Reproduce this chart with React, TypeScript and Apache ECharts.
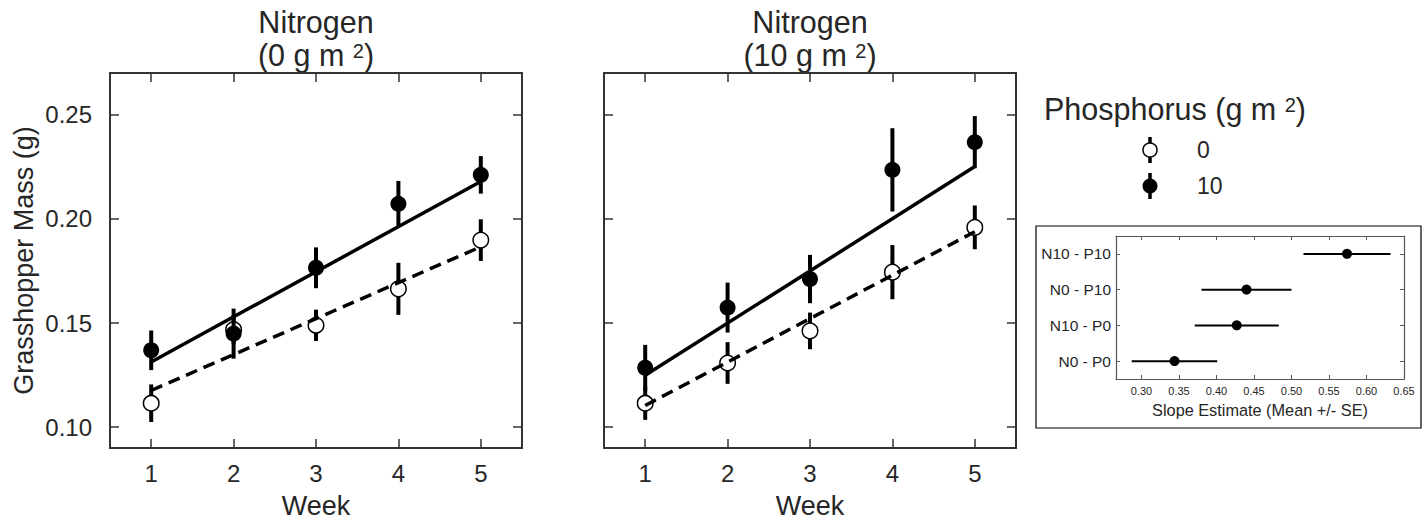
import React, { useEffect, useRef } from "react";
import * as echarts from "echarts";

// ---- data ----
const weeks = [1, 2, 3, 4, 5];
const fitWeeks = [1, 5];
const weekTicks = [1, 2, 3, 4, 5];
const massTicks = [0.1, 0.15, 0.2, 0.25];

// N0 panel
const n0p0Mean = [0.1115, 0.1468, 0.1489, 0.1664, 0.1898];
const n0p0Err = [0.009, 0.007, 0.0075, 0.0125, 0.01];
const n0p10Mean = [0.1369, 0.1449, 0.1765, 0.2072, 0.2211];
const n0p10Err = [0.0095, 0.012, 0.0098, 0.011, 0.009];
const n0p0Fit = [0.1176, 0.1866];
const n0p10Fit = [0.1313, 0.2179];

// N10 panel
const n10p0Mean = [0.1115, 0.1308, 0.1462, 0.1744, 0.1959];
const n10p0Err = [0.008, 0.01, 0.0088, 0.013, 0.0105];
const n10p10Mean = [0.1285, 0.1574, 0.1711, 0.2235, 0.2368];
const n10p10Err = [0.011, 0.012, 0.0116, 0.02, 0.0125];
const n10p0Fit = [0.1104, 0.1938];
const n10p10Fit = [0.1249, 0.2251];

// Slope inset
const slopeLabels = ["N0 - P0", "N10 - P0", "N0 - P10", "N10 - P10"];
const slopeMean = [0.344, 0.427, 0.44, 0.574];
const slopeSE = [0.057, 0.056, 0.06, 0.058];
const slopeTicks = [0.3, 0.35, 0.4, 0.45, 0.5, 0.55, 0.6, 0.65];

const FONT = "Liberation Sans, Arial, Helvetica, sans-serif";
const TXT = "#262626";
const AX = "#333";
const TITLE_SIZE = 30.5;
const SUP_SIZE = 20;

let measureCtx: CanvasRenderingContext2D | null = null;
function textWidth(t: string, size: number) {
  if (!measureCtx) measureCtx = document.createElement("canvas").getContext("2d");
  if (!measureCtx) return t.length * size * 0.55;
  measureCtx.font = `${size}px "Liberation Sans", Arial, sans-serif`;
  return measureCtx.measureText(t).width;
}

// text "base" + superscript "2" + ")" ; returns graphic elements
function supLabel(x: number, y: number, base: string, align: "left" | "center") {
  const w1 = textWidth(base, TITLE_SIZE);
  const w2 = textWidth("2", SUP_SIZE);
  const w3 = textWidth(")", TITLE_SIZE);
  const total = w1 + w2 + w3;
  const start = align === "center" ? x - total / 2 : x;
  const mk = (tx: number, ty: number, text: string, size: number) => ({
    type: "text",
    x: tx,
    y: ty,
    style: { text, fontSize: size, fill: TXT, fontFamily: FONT, align: "left", verticalAlign: "middle" },
  });
  return [
    mk(start, y, base, TITLE_SIZE),
    mk(start + w1, y - 4.5, "2", SUP_SIZE),
    mk(start + w1 + w2, y, ")", TITLE_SIZE),
  ];
}

function mainAxes(grid: number, showYLabels: boolean) {
  const tick = (vals: number[]) => ({
    show: true,
    inside: true,
    length: 9,
    customValues: vals,
    lineStyle: { color: AX, width: 1.5 },
  });
  const line = { show: true, onZero: false, lineStyle: { color: AX, width: 2 } };
  const xBase = {
    type: "value",
    gridIndex: grid,
    min: 0.5,
    max: 5.5,
    splitLine: { show: false },
    axisLine: line,
  };
  const yBase = {
    type: "value",
    gridIndex: grid,
    min: 0.09,
    max: 0.27,
    splitLine: { show: false },
    axisLine: line,
  };
  const xAxes = [
    {
      ...xBase,
      position: "bottom",
      axisTick: tick(weekTicks),
      axisLabel: {
        customValues: weekTicks,
        fontSize: 24,
        color: TXT,
        fontFamily: FONT,
        margin: 13,
      },
      name: "Week",
      nameLocation: "middle",
      nameGap: 44,
      nameTextStyle: { fontSize: 27, color: TXT, fontFamily: FONT },
    },
    {
      ...xBase,
      position: "top",
      axisTick: tick(weekTicks),
      axisLabel: { show: false, customValues: weekTicks },
    },
  ];
  const yAxes = [
    {
      ...yBase,
      position: "left",
      axisTick: tick(massTicks),
      axisLabel: {
        show: showYLabels,
        customValues: massTicks,
        fontSize: 24,
        color: TXT,
        fontFamily: FONT,
        margin: 18,
        formatter: (v: number) => v.toFixed(2),
      },
      name: showYLabels ? "Grasshopper Mass (g)" : "",
      nameLocation: "middle",
      nameGap: 73,
      nameTextStyle: { fontSize: 27, color: TXT, fontFamily: FONT },
    },
    {
      ...yBase,
      position: "right",
      axisTick: tick(massTicks),
      axisLabel: { show: false, customValues: massTicks },
    },
  ];
  return { xAxes, yAxes };
}

function vErr(axisIdx: number, mean: number[], err: number[], z: number) {
  return {
    type: "custom",
    xAxisIndex: axisIdx,
    yAxisIndex: axisIdx,
    z,
    silent: true,
    encode: { x: 0, y: [1, 2] },
    data: weeks.map((w, i) => [w, mean[i] - err[i], mean[i] + err[i]]),
    renderItem: (_p: any, api: any) => {
      const x = api.value(0);
      const a = api.coord([x, api.value(1)]);
      const b = api.coord([x, api.value(2)]);
      return {
        type: "line",
        shape: { x1: a[0], y1: a[1], x2: b[0], y2: b[1] },
        style: { stroke: "#000", lineWidth: 4 },
      };
    },
  };
}

function pts(axisIdx: number, mean: number[], open: boolean, z: number) {
  return {
    type: "scatter",
    xAxisIndex: axisIdx,
    yAxisIndex: axisIdx,
    z,
    silent: true,
    symbol: "circle",
    symbolSize: open ? 15.5 : 16,
    itemStyle: open
      ? { color: "#fff", borderColor: "#000", borderWidth: 1.5, opacity: 1 }
      : { color: "#000", opacity: 1 },
    data: weeks.map((w, i) => [w, mean[i]]),
  };
}

function fit(axisIdx: number, vals: number[], dashed: boolean) {
  return {
    type: "line",
    xAxisIndex: axisIdx,
    yAxisIndex: axisIdx,
    z: 6,
    silent: true,
    symbol: "none",
    lineStyle: { color: "#000", width: 3.5, type: dashed ? [12, 7] : "solid" },
    data: fitWeeks.map((w, i) => [w, vals[i]]),
  };
}

export default function App() {
  const ref = useRef<HTMLDivElement>(null);
  useEffect(() => {
    if (!ref.current) return;
    const chart = echarts.init(ref.current, undefined, { renderer: "svg" });

    const A = mainAxes(0, true);
    const B = mainAxes(1, false);

    const insetLine = { show: true, onZero: false, lineStyle: { color: "#555", width: 1.2 } };
    const insetTickX = {
      show: true,
      inside: true,
      length: 4,
      customValues: slopeTicks,
      lineStyle: { color: "#555", width: 1 },
    };
    const insetTickY = {
      show: true,
      inside: true,
      length: 4,
      alignWithLabel: true,
      lineStyle: { color: "#555", width: 1 },
    };

    const option: any = {
      animation: false,
      grid: [
        { left: 110, top: 73, width: 412, height: 375, outerBoundsMode: "none", containLabel: false },
        { left: 604, top: 73, width: 412, height: 375, outerBoundsMode: "none", containLabel: false },
        { left: 1116, top: 236, width: 288, height: 143, outerBoundsMode: "none", containLabel: false },
      ],
      xAxis: [
        A.xAxes[0],
        B.xAxes[0],
        {
          type: "value",
          gridIndex: 2,
          min: 0.266,
          max: 0.65,
          position: "bottom",
          splitLine: { show: false },
          axisLine: insetLine,
          axisTick: insetTickX,
          axisLabel: {
            customValues: slopeTicks,
            fontSize: 11,
            color: TXT,
            fontFamily: FONT,
            margin: 6,
            formatter: (v: number) => v.toFixed(2),
          },
          name: "Slope Estimate (Mean +/- SE)",
          nameLocation: "middle",
          nameGap: 23,
          nameTextStyle: { fontSize: 16.3, color: TXT, fontFamily: FONT },
        },
        A.xAxes[1],
        B.xAxes[1],
        {
          type: "value",
          gridIndex: 2,
          min: 0.266,
          max: 0.65,
          position: "top",
          splitLine: { show: false },
          axisLine: insetLine,
          axisTick: insetTickX,
          axisLabel: { show: false, customValues: slopeTicks },
        },
      ],
      yAxis: [
        A.yAxes[0],
        B.yAxes[0],
        {
          type: "category",
          gridIndex: 2,
          data: slopeLabels,
          position: "left",
          axisLine: insetLine,
          axisTick: insetTickY,
          axisLabel: { fontSize: 15.5, color: TXT, fontFamily: FONT, margin: 5 },
          splitLine: { show: false },
        },
        A.yAxes[1],
        B.yAxes[1],
        {
          type: "category",
          gridIndex: 2,
          data: slopeLabels,
          position: "right",
          axisLine: insetLine,
          axisTick: insetTickY,
          axisLabel: { show: false },
          splitLine: { show: false },
        },
      ],
      series: [
        // N0 panel
        vErr(0, n0p0Mean, n0p0Err, 2),
        pts(0, n0p0Mean, true, 3),
        vErr(0, n0p10Mean, n0p10Err, 4),
        pts(0, n0p10Mean, false, 5),
        fit(0, n0p0Fit, true),
        fit(0, n0p10Fit, false),
        // N10 panel
        vErr(1, n10p0Mean, n10p0Err, 2),
        pts(1, n10p0Mean, true, 3),
        vErr(1, n10p10Mean, n10p10Err, 4),
        pts(1, n10p10Mean, false, 5),
        fit(1, n10p0Fit, true),
        fit(1, n10p10Fit, false),
        // inset
        {
          type: "custom",
          xAxisIndex: 2,
          yAxisIndex: 2,
          z: 3,
          silent: true,
          encode: { x: [0, 1], y: 2 },
          data: slopeMean.map((m, i) => [m - slopeSE[i], m + slopeSE[i], i]),
          renderItem: (_p: any, api: any) => {
            const c = api.value(2);
            const a = api.coord([api.value(0), c]);
            const b = api.coord([api.value(1), c]);
            return {
              type: "line",
              shape: { x1: a[0], y1: a[1], x2: b[0], y2: b[1] },
              style: { stroke: "#000", lineWidth: 2 },
            };
          },
        },
        {
          type: "scatter",
          xAxisIndex: 2,
          yAxisIndex: 2,
          z: 4,
          silent: true,
          symbolSize: 10,
          itemStyle: { color: "#000", opacity: 1 },
          data: slopeMean.map((m, i) => [m, i]),
        },
      ],
      graphic: [
        // panel titles
        {
          type: "text",
          x: 316,
          y: 22,
          style: { text: "Nitrogen", fontSize: TITLE_SIZE, fill: TXT, fontFamily: FONT, align: "center", verticalAlign: "middle" },
        },
        ...supLabel(316, 55, "(0 g m ", "center"),
        {
          type: "text",
          x: 810,
          y: 22,
          style: { text: "Nitrogen", fontSize: TITLE_SIZE, fill: TXT, fontFamily: FONT, align: "center", verticalAlign: "middle" },
        },
        ...supLabel(810, 55, "(10 g m ", "center"),
        // legend
        ...supLabel(1044, 109, "Phosphorus (g m ", "left"),
        { type: "line", shape: { x1: 1150, y1: 137, x2: 1150, y2: 163 }, style: { stroke: "#000", lineWidth: 3.5 } },
        { type: "circle", shape: { cx: 1150, cy: 150, r: 7 }, style: { fill: "#fff", stroke: "#000", lineWidth: 1.5 } },
        { type: "line", shape: { x1: 1150, y1: 173, x2: 1150, y2: 199 }, style: { stroke: "#000", lineWidth: 3.5 } },
        { type: "circle", shape: { cx: 1150, cy: 186, r: 7.5 }, style: { fill: "#000" } },
        {
          type: "text",
          x: 1197,
          y: 150,
          style: { text: "0", fontSize: 23, fill: TXT, fontFamily: FONT, verticalAlign: "middle" },
        },
        {
          type: "text",
          x: 1197,
          y: 186,
          style: { text: "10", fontSize: 23, fill: TXT, fontFamily: FONT, verticalAlign: "middle" },
        },
        // inset frame
        {
          type: "rect",
          shape: { x: 1036, y: 226, width: 385, height: 202 },
          style: { fill: "none", stroke: "#000", lineWidth: 1.2 },
        },
      ],
    };
    chart.setOption(option);
    return () => chart.dispose();
  }, []);
  return (
    <div
      ref={ref}
      style={{ position: "absolute", left: 0, top: 0, width: 1426, height: 521, background: "#fff" }}
    />
  );
}
